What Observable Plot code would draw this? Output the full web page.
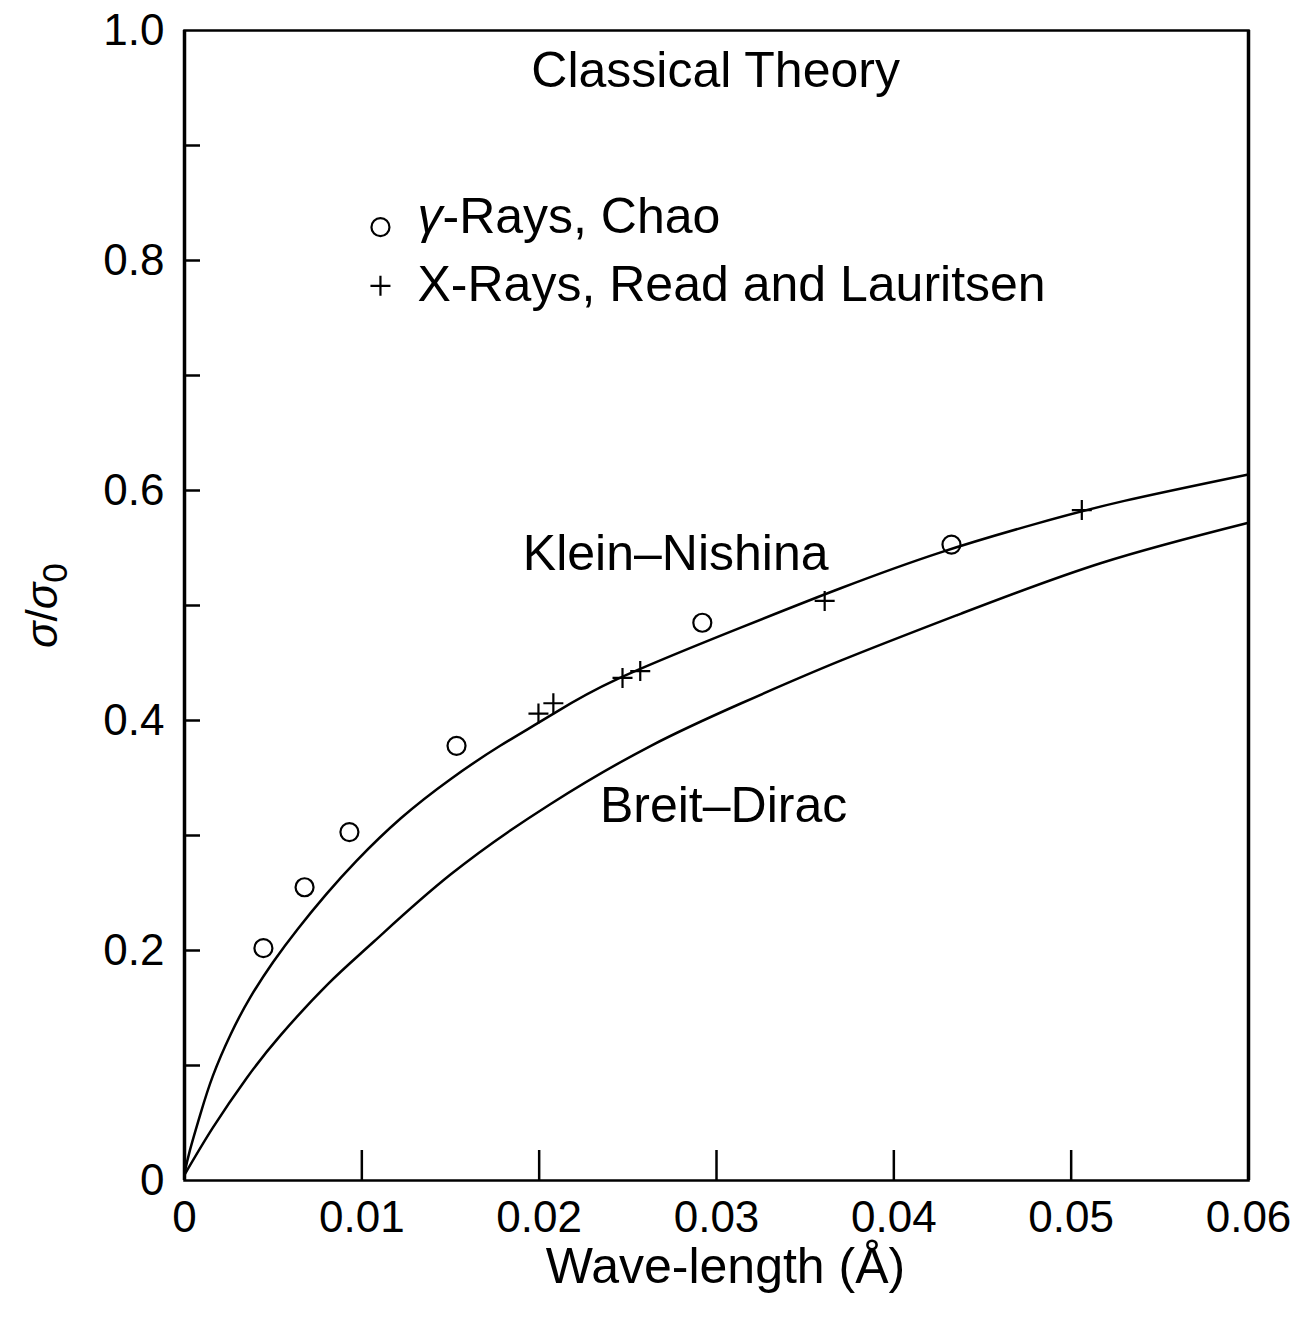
<!DOCTYPE html>
<html>
<head>
<meta charset="utf-8">
<script src="https://cdn.jsdelivr.net/npm/d3@7"></script>
<script src="https://cdn.jsdelivr.net/npm/@observablehq/plot@0.6"></script>
<style>
  html, body { margin: 0; padding: 0; background: #fff; }
</style>
</head>
<body>
<div id="chart"></div>
<script>
// ---- Data ----
// Klein–Nishina curve (wave-length in Å, σ/σ0)
const knX = [0, 0.0003, 0.0009, 0.0016, 0.0026, 0.0037, 0.0050, 0.0064, 0.0080, 0.0097, 0.0122, 0.0150, 0.0178, 0.0206, 0.0244, 0.0314, 0.0370, 0.0426, 0.0480, 0.0530, 0.0600];
const knY = [0.006, 0.026, 0.058, 0.091, 0.127, 0.159, 0.190, 0.219, 0.249, 0.278, 0.315, 0.349, 0.378, 0.404, 0.436, 0.481, 0.515, 0.546, 0.571, 0.591, 0.614];
// Breit–Dirac curve
const bdX = [0, 0.0016, 0.0035, 0.0054, 0.0081, 0.0107, 0.0150, 0.0206, 0.0263, 0.0314, 0.0370, 0.0438, 0.0517, 0.0600];
const bdY = [0.005, 0.046, 0.089, 0.126, 0.171, 0.208, 0.266, 0.327, 0.378, 0.415, 0.452, 0.493, 0.537, 0.572];
// γ-Rays, Chao (circles)
const chaoX = [0.00445, 0.00677, 0.0093, 0.01534, 0.0292, 0.04325];
const chaoY = [0.202, 0.255, 0.303, 0.378, 0.485, 0.553];
// X-Rays, Read and Lauritsen (plus)
const readX = [0.01996, 0.0208, 0.0247, 0.0257, 0.0361, 0.0506];
const readY = [0.406, 0.415, 0.437, 0.443, 0.504, 0.583];
// Axis ticks
const xTicks = [0, 0.01, 0.02, 0.03, 0.04, 0.05, 0.06];
const xTickLabels = ["0", "0.01", "0.02", "0.03", "0.04", "0.05", "0.06"];
const yTicks = [0, 0.2, 0.4, 0.6, 0.8, 1.0];
const yTickLabels = ["0", "0.2", "0.4", "0.6", "0.8", "1.0"];
const yMinorTicks = [0.1, 0.2, 0.3, 0.4, 0.5, 0.6, 0.7, 0.8, 0.9];
// Annotations
const annoText = ["Classical Theory", "Klein–Nishina", "Breit–Dirac"];
const annoX = [0.02995, 0.0277, 0.0304];
const annoY = [0.965, 0.545, 0.326];
// Legend
const legendLabels = ["γ-Rays, Chao", "X-Rays, Read and Lauritsen"];
const legendMarkerX = 0.01105;
const legendTextX = 0.01314;
const legendMarkerY = [0.829, 0.778];
const legendTextY = [0.838, 0.779];
const xLabel = "Wave-length (Å)";
const yLabel = "σ/σ0";

// ---- Build tables ----
const kn = knX.map((x, i) => ({x, y: knY[i]}));
const bd = bdX.map((x, i) => ({x, y: bdY[i]}));
const chao = chaoX.map((x, i) => ({x, y: chaoY[i]}));
const read = readX.map((x, i) => ({x, y: readY[i]}));
const anno = annoText.map((t, i) => ({t, x: annoX[i], y: annoY[i]}));
const xLab = new Map(xTicks.map((d, i) => [d, xTickLabels[i]]));
const yLab = new Map(yTicks.map((d, i) => [d, yTickLabels[i]]));

const W = 1305, H = 1320;
const mL = 184, mR = 57, mT = 30, mB = 140;
const plotW = W - mL - mR, plotH = H - mT - mB;

const plusSymbol = {
  draw(context, size) {
    const r = Math.sqrt(size / Math.PI);
    context.moveTo(-r, 0); context.lineTo(r, 0);
    context.moveTo(0, -r); context.lineTo(0, r);
  }
};

const font = "'Liberation Sans', Arial, Helvetica, sans-serif";

const chart = Plot.plot({
  width: W,
  height: H,
  marginLeft: mL,
  marginRight: mR,
  marginTop: mT,
  marginBottom: mB,
  style: {fontFamily: font, color: "black", background: "white"},
  x: {domain: [0, 0.06]},
  y: {domain: [0, 1]},
  marks: [
    Plot.frame({stroke: "black", strokeWidth: 2.5}),
    Plot.ruleX([0, 0.06], {x: d => d, stroke: "black", strokeWidth: 3.5}),
    Plot.tickX(xTicks, {x: d => d, insetTop: plotH - 30, stroke: "black", strokeWidth: 2.5}),
    Plot.tickY(yMinorTicks, {y: d => d, insetRight: plotW - 16, stroke: "black", strokeWidth: 2.5}),
    Plot.axisX({ticks: xTicks, tickFormat: d => xLab.get(d), tickSize: 0, tickPadding: 20, fontSize: 44, label: null}),
    Plot.axisY({ticks: yTicks, tickFormat: d => yLab.get(d), tickSize: 0, tickPadding: 20, fontSize: 44, label: null}),
    Plot.line(kn, {x: "x", y: "y", curve: "natural", stroke: "black", strokeWidth: 2.5}),
    Plot.line(bd, {x: "x", y: "y", curve: "natural", stroke: "black", strokeWidth: 2.5}),
    Plot.dot(chao, {x: "x", y: "y", r: 9, stroke: "black", strokeWidth: 2.2, fill: "none"}),
    Plot.dot(read, {x: "x", y: "y", r: 10, symbol: plusSymbol, stroke: "black", strokeWidth: 2.2, fill: "none"}),
    Plot.dot([0], {x: () => legendMarkerX, y: () => legendMarkerY[0], r: 9, stroke: "black", strokeWidth: 2.2, fill: "none"}),
    Plot.dot([1], {x: () => legendMarkerX, y: () => legendMarkerY[1], r: 10, symbol: plusSymbol, stroke: "black", strokeWidth: 2.2, fill: "none"}),
    Plot.text(legendLabels, {x: () => legendTextX, y: (d, i) => legendTextY[i], text: d => d, textAnchor: "start", fontSize: 50, fill: "black"}),
    Plot.text(anno, {x: "x", y: "y", text: "t", fontSize: 50, fill: "black"}),
    Plot.text([xLabel], {frameAnchor: "bottom", text: d => d, lineAnchor: "middle", textAnchor: "middle", dy: 86, dx: 9, fontSize: 50, fill: "black"}),
    Plot.text([yLabel], {frameAnchor: "left", text: d => d, lineAnchor: "middle", textAnchor: "middle", dx: -142, rotate: -90, fontSize: 44, fill: "black"})
  ]
});

// Rich text: italic Greek letters and subscript
chart.querySelectorAll("text").forEach(t => {
  const s = t.textContent;
  if (s === legendLabels[0]) {
    t.innerHTML = '<tspan font-style="italic">γ</tspan>-Rays, Chao';
  } else if (s === yLabel) {
    t.innerHTML = '<tspan font-style="italic">σ</tspan>/<tspan font-style="italic">σ</tspan><tspan dy="0.3em" font-size="0.8em">0</tspan>';
  }
});

document.getElementById("chart").appendChild(chart);
</script>
</body>
</html>
